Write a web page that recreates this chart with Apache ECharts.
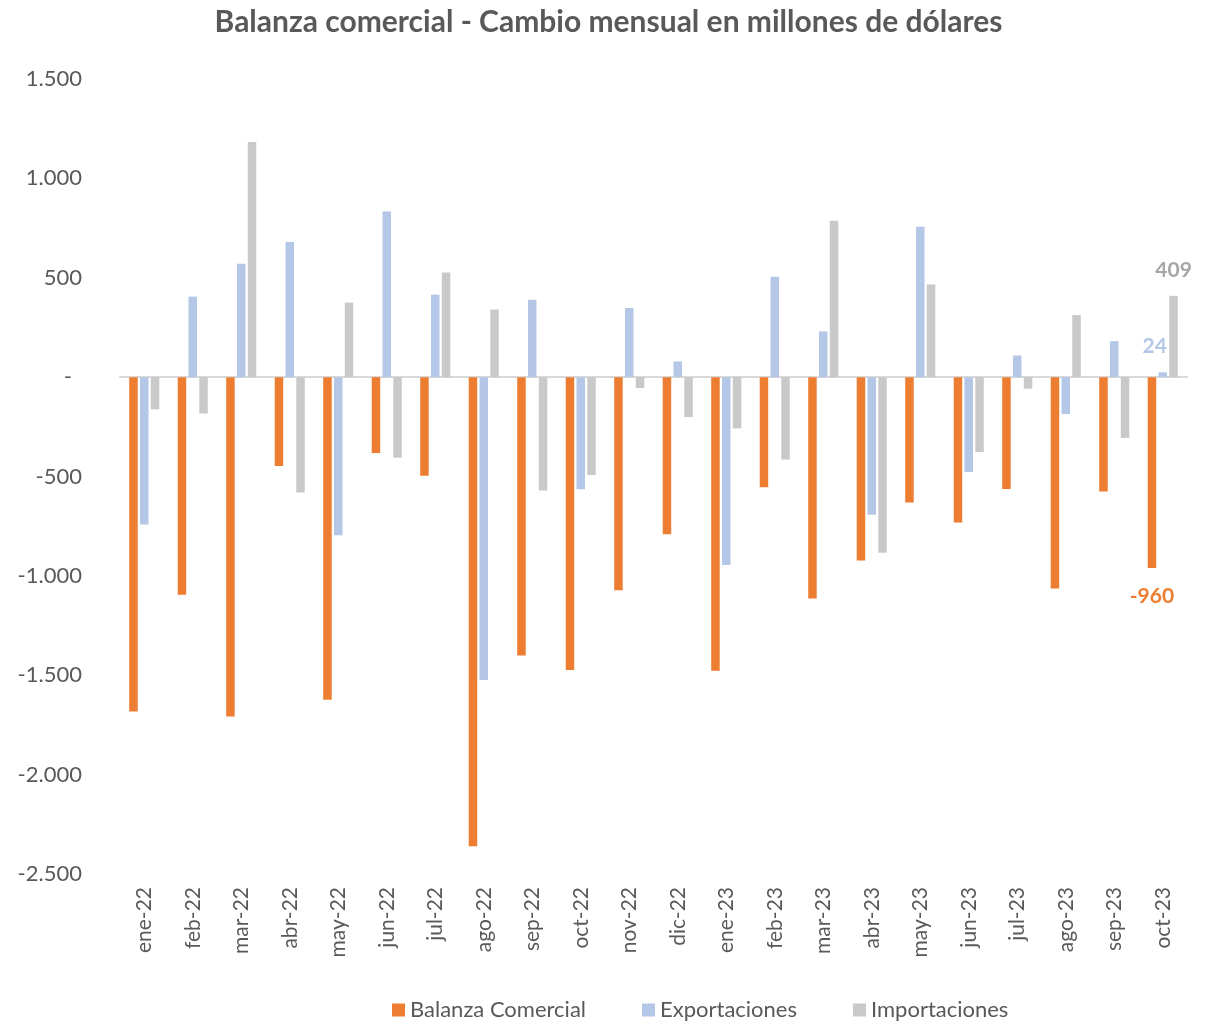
<!DOCTYPE html>
<html>
<head>
<meta charset="utf-8">
<script src="https://cdn.jsdelivr.net/npm/echarts@6/dist/echarts.min.js"></script>
<style>
  html, body { margin: 0; padding: 0; background: #fff; }
  #main { width: 1217px; height: 1022px; }
</style>
</head>
<body>
<div id="main"></div>
<script>
// meses
var meses = ['ene-22', 'feb-22', 'mar-22', 'abr-22', 'may-22', 'jun-22', 'jul-22', 'ago-22',
  'sep-22', 'oct-22', 'nov-22', 'dic-22', 'ene-23', 'feb-23', 'mar-23', 'abr-23',
  'may-23', 'jun-23', 'jul-23', 'ago-23', 'sep-23', 'oct-23'];

var balanza = [-1683, -1095, -1708, -447, -1623, -382, -496, -2360, -1400, -1474, -1072,
  -790, -1477, -554, -1114, -923, -631, -732, -563, -1063, -576, -960];
var exportaciones = [-742, 405, 570, 680, -795, 833, 415, -1524, 389, -564, 348,
  79, -945, 505, 230, -692, 757, -477, 109, -186, 181, 24];
var importaciones = [-162, -183, 1183, -581, 375, -405, 526, 340, -571, -492, -55,
  -201, -258, -415, 787, -884, 466, -377, -58, 312, -306, 409];

var gris = '#595959';

function miles(v) {
  var s = String(Math.abs(v)).replace(/\B(?=(\d{3})+(?!\d))/g, '.');
  return (v < 0 ? '-' : '') + s;
}

// solo el ultimo mes lleva etiqueta
function conEtiqueta(arr, label) {
  return arr.map(function (v, i) {
    if (i !== arr.length - 1) return v;
    return { value: v, label: label };
  });
}

var myChart = echarts.init(document.getElementById('main'));

myChart.setOption({
  animation: false,
  textStyle: { fontFamily: 'Lato, "Open Sans", sans-serif' },
  title: {
    text: 'Balanza comercial - Cambio mensual en millones de dólares',
    left: 'center',
    top: 2,
    textStyle: { fontSize: 30, fontWeight: 'bold', color: gris, fontFamily: 'Lato, sans-serif' }
  },
  legend: {
    top: 994,
    left: 387,
    icon: 'rect',
    itemWidth: 13,
    itemHeight: 13,
    itemGap: 56,
    textStyle: { fontSize: 22, color: gris, fontFamily: 'Lato, sans-serif' },
    data: ['Balanza Comercial', 'Exportaciones', 'Importaciones']
  },
  grid: { left: 120, right: 30, top: 79, bottom: 148 },
  xAxis: {
    type: 'category',
    data: meses,
    axisLine: { onZero: true, lineStyle: { color: '#D9D9D9', width: 2 } },
    axisTick: { show: false },
    axisLabel: {
      rotate: 90,
      interval: 0,
      margin: 13,
      fontSize: 21,
      color: gris
    }
  },
  yAxis: {
    type: 'value',
    min: -2500,
    max: 1500,
    interval: 500,
    splitLine: { show: false },
    axisLine: { show: false },
    axisTick: { show: false },
    axisLabel: {
      margin: 38,
      fontSize: 22,
      color: gris,
      formatter: function (v) {
        return v === 0 ? '{z|-}' : miles(v);
      },
      rich: { z: { fontSize: 22, color: gris, padding: [0, 10, 0, 0] } }
    }
  },
  series: [
    {
      name: 'Balanza Comercial',
      type: 'bar',
      barGap: '27%',
      barCategoryGap: '38%',
      itemStyle: { color: '#ED7D31' },
      data: conEtiqueta(balanza, {
        show: true, position: 'bottom', distance: 18,
        fontSize: 21, fontWeight: 'bold', color: '#ED7D31',
        formatter: function (p) { return miles(p.value); }
      })
    },
    {
      name: 'Exportaciones',
      type: 'bar',
      itemStyle: { color: '#B4C7E7' },
      data: conEtiqueta(exportaciones, {
        show: true, position: 'top', distance: 16, offset: [-8, 0],
        fontSize: 21, fontWeight: 'bold', color: '#B4C7E7'
      })
    },
    {
      name: 'Importaciones',
      type: 'bar',
      itemStyle: { color: '#C9C9C9' },
      data: conEtiqueta(importaciones, {
        show: true, position: 'top', distance: 15,
        fontSize: 21, fontWeight: 'bold', color: '#A6A6A6'
      })
    }
  ]
});
</script>
</body>
</html>
